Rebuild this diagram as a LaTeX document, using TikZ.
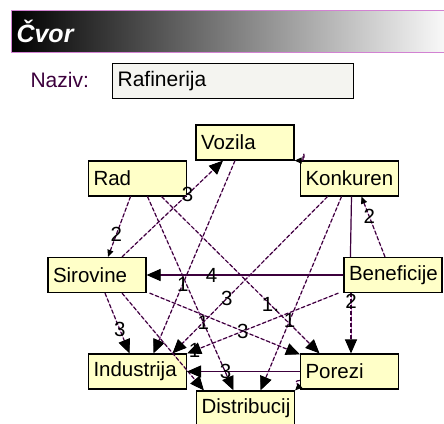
\documentclass[tikz,border=0pt]{standalone}
\usepackage{fontspec}
\setmainfont{Liberation Sans}
\usetikzlibrary{arrows.meta}
\definecolor{knotengelb}{RGB}{255,255,200}
\definecolor{kantenlila}{RGB}{60,0,60}
\definecolor{saum}{RGB}{210,130,210}
\definecolor{feldgrau}{RGB}{244,244,240}
\definecolor{leistehell}{RGB}{248,248,248}
\newcommand{\knotenschrift}{\fontsize{20.5}{24}\selectfont}
\begin{document}
\begin{tikzpicture}[x=1pt, y=-1pt,
    knoten/.style={draw=black, line width=1.2pt, fill=knotengelb, minimum width=98pt, minimum height=35pt,
      text width=88pt, inner sep=5pt, align=left, font=\knotenschrift},
    kante/.style={draw=kantenlila, line width=1.2pt, dash pattern=on 4pt off 2pt,
      preaction={draw=saum, solid}, -{Triangle[length=14pt, width=12pt, color=black]}},
    kantek/.style={kante, -{Triangle[length=7pt, width=6pt, color=black]}},
    kantevoll/.style={kante, solid},
    gewicht/.style={inner sep=0pt, font=\knotenschrift}]
    \useasboundingbox (0,0) rectangle (444,423);
    % Titelleiste
    \shade[left color=black, right color=leistehell] (11,10) rectangle (444,52);
    \draw[saum, line width=1pt] (11,10) rectangle (446,52);
    \node[anchor=west, text=white, font=\fontsize{25}{28}\selectfont\bfseries\itshape] (titel) at (13,31) {Čvor};
    % Name
    \node[anchor=west, text=kantenlila, font=\fontsize{21}{24}\selectfont] (naziv) at (27,80) {Naziv:};
    \node[draw=black, line width=1.2pt, fill=feldgrau, minimum width=241pt, minimum height=35pt, text width=231pt,
      inner sep=4pt, align=left, anchor=north west, font=\fontsize{21}{24}\selectfont] (feld) at (112,63) {Rafinerija};
    % Knoten
    \node[knoten] (vozila) at (245,142.5) {Vozila};
    \node[knoten] (rad) at (137.5,178.5) {Rad};
    \node[knoten] (konkuren) at (349.5,178.5) {Konkuren};
    \node[knoten] (sirovine) at (97,275) {Sirovine};
    \node[knoten] (beneficije) at (393,275) {Beneficije};
    \node[knoten] (industrija) at (137.5,371.5) {Industrija};
    \node[knoten] (porezi) at (349.5,371.5) {Porezi};
    \node[knoten] (distribucij) at (245.5,408.5) {Distribucij};
    % Kanten
    \draw[kante] ([xshift=25pt]sirovine.north) -- node[gewicht, pos=.65] {3} ([xshift=-22pt]vozila.south);
    \draw[kantek] ([xshift=-7pt]rad.south) -- node[gewicht, pos=.63] {2} ([xshift=11pt]sirovine.north);
    \draw[kante] ([xshift=24pt]rad.south) -- node[gewicht, pos=.69] {1.} ([xshift=-30pt]porezi.north);
    \draw[kante] ([xshift=10pt]rad.south) -- node[gewicht, pos=.65] {1} ([xshift=-12pt]distribucij.north);
    \draw[kante] ([xshift=-10pt]vozila.south) -- node[gewicht, pos=.64] {1} ([xshift=16pt]industrija.north);
    \draw[kantek] ([xshift=3pt]konkuren.north west) .. controls +(0,-14) and +(12,0) .. (vozila.south east);
    \draw[kantek] ([xshift=-8pt]beneficije.north) -- node[gewicht, pos=.67] {2} ([xshift=12pt]konkuren.south);
    \draw[kantevoll, -] ([xshift=2pt]konkuren.south) -- ([xshift=7pt]beneficije.north west);
    \draw[kantevoll] (beneficije.west) -- node[gewicht, pos=.67] {4} (sirovine.east);
    \draw[kante] ([xshift=-42pt]beneficije.south) -- node[gewicht, pos=.13] {2} ([xshift=1.5pt]porezi.north);
    \draw[kante] ([xshift=-22pt]konkuren.south) -- node[gewicht, pos=.65] {3} ([xshift=35pt]industrija.north);
    \draw[kante] ([xshift=-8pt]konkuren.south) -- node[gewicht, pos=.64] {1} ([xshift=15pt]distribucij.north);
    \draw[kante] ([xshift=8pt]sirovine.south) -- node[gewicht, pos=.6] {3} ([xshift=-8pt]industrija.north);
    \draw[kante] ([xshift=3pt]sirovine.south east) -- node[gewicht, pos=.62] {3} ([yshift=-1pt]porezi.north west);
    \draw[kante] ([xshift=25pt]sirovine.south) -- ([xshift=8pt]distribucij.north west);
    \draw[kante] ([xshift=-5pt]beneficije.south west) -- node[gewicht, pos=.95] {1} (industrija.north east);
    \draw[kantevoll] (porezi.west) -- node[gewicht, pos=.66] {3} (industrija.east);
    \draw[kantek] ([yshift=-9pt]porezi.west) .. controls +(-8,0) and +(4,-4) .. (distribucij.north east);
\end{tikzpicture}
\end{document}
